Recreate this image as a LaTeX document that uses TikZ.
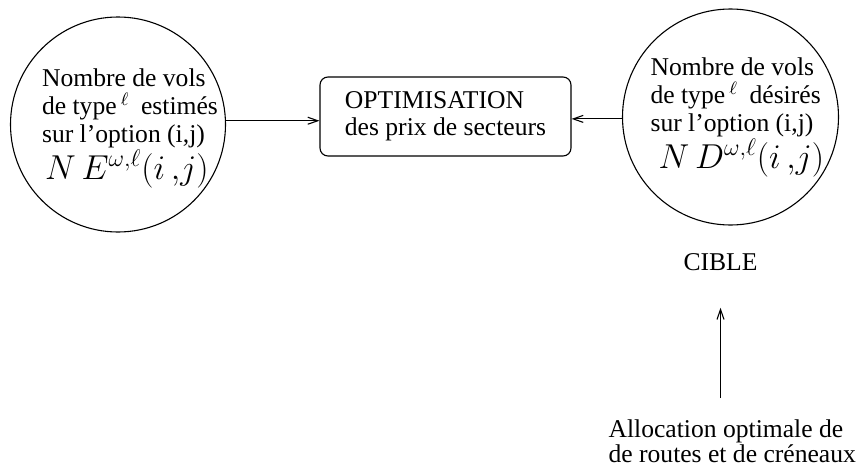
\documentclass[tikz,border=0pt]{standalone}
\usepackage{fontspec}
\setmainfont{Liberation Serif}
\usetikzlibrary{arrows.meta}

\begin{document}
\begin{tikzpicture}[x=.5pt, y=-.5pt, line width=.55pt,
  font=\fontsize{12.8}{13.5}\selectfont,
  fleche/.style={-{Straight Barb[length=5pt,width=3.5pt]}},
  rond/.style={draw, circle, inner sep=0pt},
  texte/.style={align=left, inner sep=0pt}]

\useasboundingbox (0,0) rectangle (856,466);

\node [rond, minimum size=107.5pt] (ne) at (118,124.5) {};
\node [rond, minimum size=108pt] (nd) at (730.5,117) {};

\node [texte, anchor=north west, font=\fontsize{12.8}{14}\selectfont] (ne-txt) at (41.5,68.2)
  {Nombre de vols\\de type\,$^{\ell}$\hspace{.45em}estimés\\sur l’option (i,j)\\
   \hspace{1.5pt}{\fontsize{17}{17}\selectfont $N\,E^{\omega,\ell}(i\,{,}j)$}};
\node [texte, anchor=north west, font=\fontsize{12.8}{14}\selectfont] (nd-txt) at (650,57.2)
  {Nombre de vols\\de type\,$^{\ell}$\hspace{.45em}désirés\\sur l’option (i,j)\\
   \hspace{4pt}{\fontsize{17}{17}\selectfont $N\,D^{\omega,\ell}(i\,{,}j)$}};

\node [draw, rounded corners=4pt, minimum width=125.5pt, minimum height=39.5pt,
  align=left, font=\fontsize{12.8}{13.65}\selectfont] (opt) at (445.5,116.5)
  {OPTIMISATION\\des prix de secteurs};

\node [inner sep=0pt, anchor=base] (cible) at (720.5,270) {CIBLE};
\node [texte, anchor=north west, font=\fontsize{12.8}{12.5}\selectfont] (alloc) at (608,419)
  {Allocation optimale de\\de routes et de créneaux};

\draw [fleche] (ne.2.4) -- (opt.west |- ne.2.4);
\draw [fleche] (nd.181.6) -- (opt.east |- nd.181.6);
\draw [fleche, shorten <=10.5pt, shorten >=18.5pt] (alloc.north -| cible) -- (cible.south);
\end{tikzpicture}
\end{document}
